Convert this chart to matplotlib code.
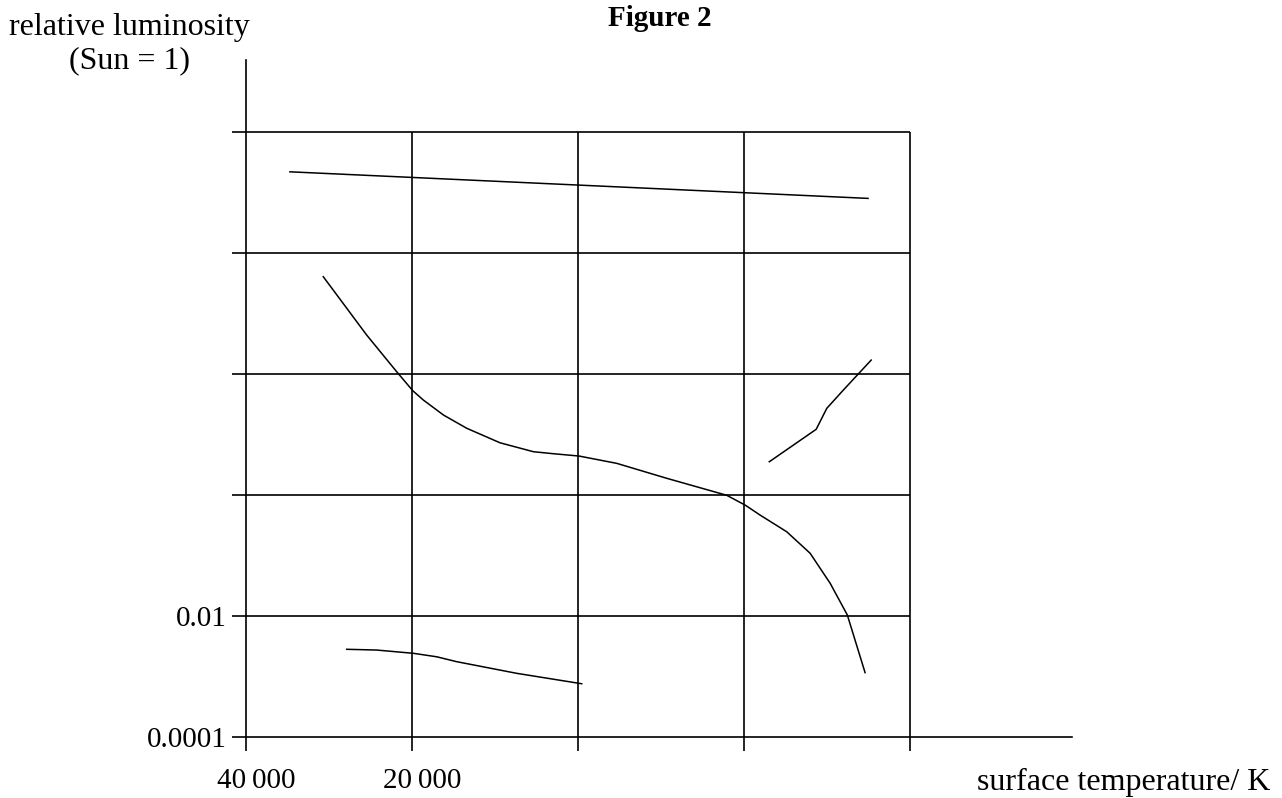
import numpy as np
import matplotlib
matplotlib.use('Agg')
import matplotlib.pyplot as plt
from matplotlib.transforms import ScaledTranslation

plt.rcParams['font.family'] = ['Liberation Serif', 'DejaVu Serif']

# grid levels
temp_grid = [40000, 20000, 10000, 5000, 2500]
temp_labels = ['40\u2009000', '20\u2009000', '', '', '']
lum_grid = [1e-4, 1e-2, 1, 1e2, 1e4, 1e6]
lum_labels = ['0.0001', '0.01', '', '', '', '']

# supergiants (top line)
sg_temp = [33300, 2980]
sg_lum = [2.2e5, 8.0e4]

# main sequence
ms_temp = [28970, 24170, 21320, 19940, 19080, 17540, 15920, 13850, 12050, 11090,
           9960, 8510, 6905, 5375, 4975, 4678, 4184, 3795, 3490, 3249, 3017]
ms_lum = [4060, 441, 109, 53, 37.2, 21.0, 12.7, 7.3, 5.2, 4.82,
          4.41, 3.34, 1.89, 0.99, 0.68, 0.467, 0.247, 0.109, 0.0347, 0.0104, 0.00116]

# giants
gi_temp = [4500, 3700, 3540, 3303, 2941]
gi_lum = [3.55, 12.2, 27.1, 54.4, 170]

# white dwarfs
wd_temp = [26270, 23180, 19890, 18040, 16600, 12920, 9850]
wd_lum = [2.82e-3, 2.74e-3, 2.42e-3, 2.12e-3, 1.76e-3, 1.13e-3, 7.6e-4]

fig = plt.figure(figsize=(12.82, 7.98), dpi=100)
ax = fig.add_axes([0.1919, 0.0764, 0.6441, 0.8484])
ax.set_xscale('log', base=2)
ax.set_yscale('log')
ax.set_xlim(40000, 1273)
ax.set_ylim(1e-4, 1.55e7)

lw = 1.2
ax.hlines(lum_grid[1:], 40000, 2500, color='black', lw=lw)
ax.vlines(temp_grid[1:], 1e-4, 1e6, color='black', lw=lw)

for t, l in [(sg_temp, sg_lum), (ms_temp, ms_lum), (gi_temp, gi_lum), (wd_temp, wd_lum)]:
    ax.plot(t, l, color='black', lw=1.1)

for s in ['top', 'right']:
    ax.spines[s].set_visible(False)
for s in ['left', 'bottom']:
    ax.spines[s].set_linewidth(lw)

ax.minorticks_off()
ax.set_xticks(temp_grid)
ax.set_xticklabels(temp_labels)
ax.set_yticks(lum_grid)
ax.set_yticklabels(lum_labels)
ax.tick_params(direction='out', length=10, width=lw, labelsize=21, pad=12)
ax.tick_params(axis='y', pad=4)
for lab in ax.get_xticklabels():
    lab.set_transform(lab.get_transform() + ScaledTranslation(0.1, 0, fig.dpi_scale_trans))

fig.text(0.515, 0.977, 'Figure 2', ha='center', va='center', fontsize=21, fontweight='bold')
fig.text(0.101, 0.9561, 'relative luminosity', ha='center', va='baseline', fontsize=23)
fig.text(0.101, 0.9148, '(Sun = 1)', ha='center', va='baseline', fontsize=23)
fig.text(0.9906, 0.01, 'surface temperature/ K', ha='right', va='baseline', fontsize=23)

fig.savefig('out.png', dpi=100)
